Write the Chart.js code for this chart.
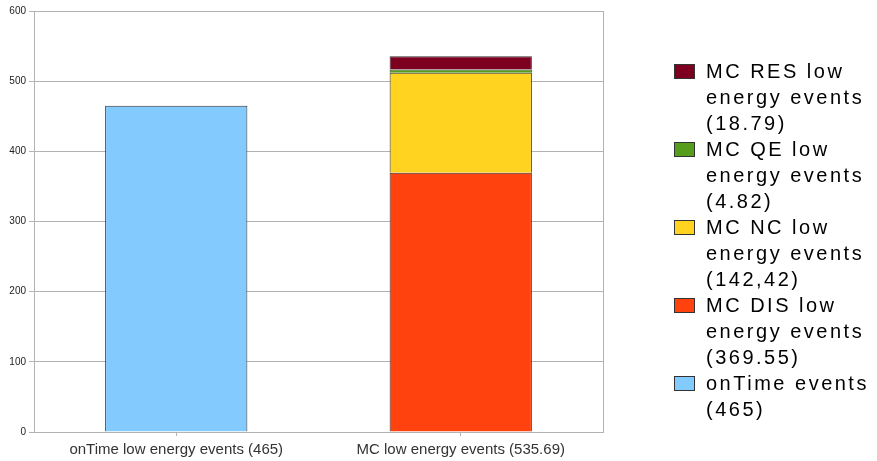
<!DOCTYPE html>
<html>
<head>
<meta charset="utf-8">
<script src="https://cdn.jsdelivr.net/npm/chart.js@4.4.1/dist/chart.umd.min.js"></script>
<style>
  html, body { margin: 0; padding: 0; background: #fff; }
  #wrap { position: relative; width: 877px; height: 461px; }
  #legend {
    position: absolute; left: 674px; top: 58px;
    font-family: "Liberation Sans", Arial, sans-serif;
    font-size: 20px; line-height: 26px; letter-spacing: 2.5px; color: #000;
  }
  .item { display: flex; align-items: flex-start; }
  .box { width: 19px; height: 13px; border: 1px solid #333; margin-top: 6px; margin-right: 11px; flex: none; }
  .txt { width: 190px; }
</style>
</head>
<body>
<div id="wrap">
  <canvas id="chart" width="877" height="461"></canvas>
  <div id="legend"></div>
</div>
<script>
// categories and series
const categories = ['onTime low energy events (465)', 'MC low energy events (535.69)'];
const onTime = [465, null];
const mcDIS = [null, 369.55];
const mcNC = [null, 142.42];
const mcQE = [null, 4.82];
const mcRES = [null, 18.79];
const yTicks = [0, 100, 200, 300, 400, 500, 600];

const colors = {
  onTime: '#83caff',
  dis: '#ff420e',
  nc: '#ffd320',
  qe: '#579d1c',
  res: '#7e0021'
};

// legend order as in the picture (top to bottom)
const legendItems = [
  { lines: ['MC RES low', 'energy events', '(18.79)'], color: colors.res },
  { lines: ['MC QE low', 'energy events', '(4.82)'], color: colors.qe },
  { lines: ['MC NC low', 'energy events', '(142,42)'], color: colors.nc },
  { lines: ['MC DIS low', 'energy events', '(369.55)'], color: colors.dis },
  { lines: ['onTime events', '(465)'], color: colors.onTime }
];

const legendEl = document.getElementById('legend');
legendItems.forEach(item => {
  const row = document.createElement('div');
  row.className = 'item';
  const box = document.createElement('div');
  box.className = 'box';
  box.style.background = item.color;
  const txt = document.createElement('div');
  txt.className = 'txt';
  txt.innerHTML = item.lines.join('<br>');
  row.appendChild(box);
  row.appendChild(txt);
  legendEl.appendChild(row);
});

const mkSet = (label, data, color) => ({
  label,
  data,
  backgroundColor: color,
  borderColor: '#333333',
  borderWidth: 1,
  categoryPercentage: 1,
  barPercentage: 0.5
});

// right frame line of the plot area
const frame = {
  id: 'frame',
  afterDraw(chart) {
    const { ctx, chartArea } = chart;
    ctx.save();
    ctx.strokeStyle = '#b3b3b3';
    ctx.lineWidth = 1;
    ctx.beginPath();
    ctx.moveTo(Math.round(chartArea.right) + 0.5, chartArea.top);
    ctx.lineTo(Math.round(chartArea.right) + 0.5, chartArea.bottom);
    ctx.stroke();
    ctx.restore();
  }
};

new Chart(document.getElementById('chart').getContext('2d'), {
  type: 'bar',
  data: {
    labels: categories,
    datasets: [
      mkSet('onTime events (465)', onTime, colors.onTime),
      mkSet('MC DIS low energy events (369.55)', mcDIS, colors.dis),
      mkSet('MC NC low energy events (142,42)', mcNC, colors.nc),
      mkSet('MC QE low energy events (4.82)', mcQE, colors.qe),
      mkSet('MC RES low energy events (18.79)', mcRES, colors.res)
    ]
  },
  options: {
    responsive: false,
    animation: false,
    layout: { padding: { top: 11, right: 274, bottom: 0, left: 0 } },
    plugins: {
      legend: { display: false },
      tooltip: { enabled: false }
    },
    scales: {
      x: {
        stacked: true,
        grid: { display: true, drawOnChartArea: false, offset: false, tickLength: 4, color: '#b3b3b3' },
        border: { color: '#b3b3b3' },
        ticks: {
          color: '#333',
          font: { family: 'Liberation Sans', size: 15 },
          padding: 5,
          maxRotation: 0
        },
        afterFit: s => { s.height = 29; }
      },
      y: {
        stacked: true,
        min: 0,
        max: 600,
        afterBuildTicks: s => { s.ticks = yTicks.map(v => ({ value: v })); },
        grid: { color: '#b3b3b3', tickLength: 5 },
        border: { color: '#b3b3b3' },
        ticks: {
          color: '#222',
          font: { family: 'Liberation Sans', size: 10 },
          padding: 3
        },
        afterFit: s => { s.width = 34; }
      }
    }
  },
  plugins: [frame]
});
</script>
</body>
</html>
